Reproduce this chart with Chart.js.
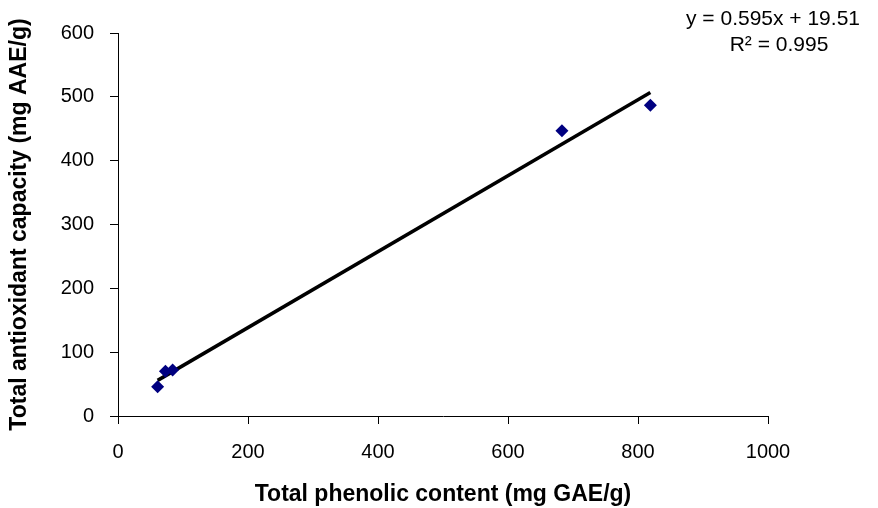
<!DOCTYPE html>
<html>
<head>
<meta charset="utf-8">
<script src="https://cdn.jsdelivr.net/npm/chart.js@4/dist/chart.umd.min.js"></script>
<style>
    html, body { margin: 0; padding: 0; background: #fff; }
    #wrap { width: 878px; height: 508px; position: relative; }
</style>
</head>
<body>
<div id="wrap"><canvas id="chart"></canvas></div>
<script>
// phenolic content (x) vs antioxidant capacity (y)
const phenolic = [61, 73, 84, 683, 819];
const antioxidant = [46, 70, 72, 447, 487];

// trendline as reported on the chart
const slope = 0.595;
const intercept = 19.51;
const rSquared = 0.995;
const trendX = [61, 819];

const xTicks = [0, 200, 400, 600, 800, 1000];
const yTicks = [0, 100, 200, 300, 400, 500, 600];

const points = phenolic.map((x, i) => ({ x: x, y: antioxidant[i] }));
const trend = trendX.map((x) => ({ x: x, y: slope * x + intercept }));

const FONT = "'Liberation Sans', Arial, sans-serif";

const equationLabel = {
    id: "equationLabel",
    afterDraw(chart) {
        const ctx = chart.ctx;
        ctx.save();
        ctx.fillStyle = "#000";
        ctx.font = `21px ${FONT}`;
        ctx.textAlign = "center";
        ctx.textBaseline = "middle";
        ctx.fillText(`y = ${slope}x + ${intercept}`, 773, 19);
        ctx.fillText(`R\u00b2 = ${rSquared}`, 779, 45);
        ctx.restore();
    }
};

function axisOpts(min, max, ticks, title, titlePad) {
    return {
        type: "linear",
        min: min,
        max: max,
        afterBuildTicks: (scale) => { scale.ticks = ticks.map((v) => ({ value: v })); },
        grid: {
            drawOnChartArea: false,
            drawTicks: true,
            tickLength: 8,
            color: "#000",
            tickColor: "#000"
        },
        border: { color: "#000", width: 1 },
        ticks: {
            color: "#000",
            padding: 16,
            font: { family: FONT, size: 20 },
            maxRotation: 0,
            callback: (v) => String(v)
        },
        title: {
            display: true,
            text: title,
            color: "#000",
            padding: titlePad,
            font: { family: FONT, size: 23, weight: "bold", lineHeight: 1.2 }
        }
    };
}

const xAxis = axisOpts(0, 1000, xTicks, "Total phenolic content (mg GAE/g)", { top: 0, bottom: 0 });
xAxis.afterFit = (scale) => { scale.height = 92; };
const yAxis = axisOpts(0, 600, yTicks, "Total antioxidant capacity (mg AAE/g)", { top: 6, bottom: 0 });
yAxis.afterFit = (scale) => { scale.width = 118; };

new Chart(document.getElementById("chart"), {
    type: "scatter",
    data: {
        datasets: [
            {
                label: "Samples",
                data: points,
                pointStyle: "rectRot",
                pointRadius: 6.5,
                pointHoverRadius: 6.5,
                backgroundColor: "#000080",
                borderColor: "#000080",
                borderWidth: 0,
                order: 1
            },
            {
                label: "Linear fit",
                type: "line",
                data: trend,
                borderColor: "#000",
                borderWidth: 3.5,
                pointRadius: 0,
                fill: false,
                order: 2
            }
        ]
    },
    plugins: [equationLabel],
    options: {
        responsive: true,
        maintainAspectRatio: false,
        animation: false,
        devicePixelRatio: 1,
        layout: { padding: { left: 0, top: 33, right: 110, bottom: 0 } },
        plugins: {
            legend: { display: false },
            tooltip: { enabled: false }
        },
        scales: { x: xAxis, y: yAxis }
    }
});
</script>
</body>
</html>
